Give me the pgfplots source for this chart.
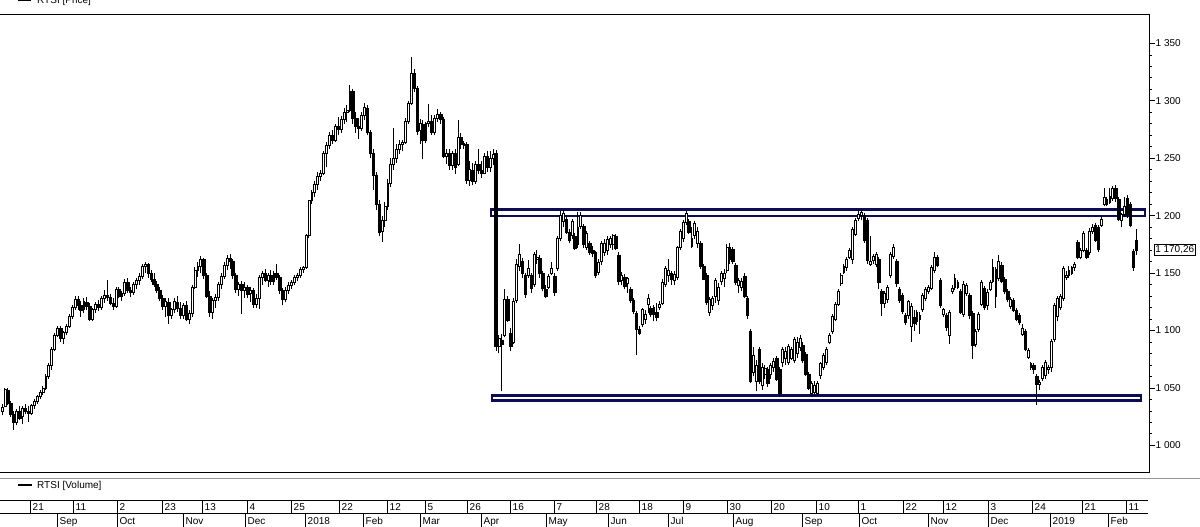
\documentclass[border=0pt]{standalone}
\usepackage{pgfplots}
\pgfplotsset{compat=1.18}
\usepackage{fontspec}
\setmainfont{Liberation Sans}
\definecolor{boxnavy}{RGB}{12,12,84}
\definecolor{sepgray}{RGB}{150,150,150}
\newcommand\yu{1.14833}% pt per index point on the price axis
\newcommand\lbl{\fontsize{10}{12}\selectfont}

\begin{document}
\begin{tikzpicture}[x=1pt,y=1pt,font=\lbl]

% price panel (the anchor sits about 8.7pt below the frame, hence 47.3)
\begin{axis}[
  at={(0,47.3)}, anchor=south west,
  scale only axis, width=1149pt, height=458.3pt,
  xmin=-0.684, xmax=392.4, ymin=976.2, ymax=1375.3,
  separate axis lines,
  axis x line*=box, axis y line*=right,
  axis line style={black, line width=0.9pt},
  xtick=\empty,
  ytick={1000,1050,...,1350},
  minor y tick num=4,
  tick align=outside,
  major tick length=6pt, minor tick length=3pt,
  tick style={black, line width=0.8pt},
  yticklabel pos=right,
  yticklabel style={anchor=west, inner sep=0.5pt, font=\lbl},
  /pgf/number format/assume math mode=true,
  /pgf/number format/1000 sep={\ },
  clip=false,
]
\addplot[
  scatter, only marks, mark=*, mark size=0pt,
  mark options={draw=none, fill=none},
  visualization depends on={value \thisrow{o} \as \vo},
  visualization depends on={value \thisrow{h} \as \vh},
  visualization depends on={value \thisrow{l} \as \vl},
  visualization depends on={value \thisrow{c} \as \vc},
  scatter/@pre marker code/.code={%
    \pgfmathsetmacro\dO{(\vo-\vc)*\yu}%
    \pgfmathsetmacro\dH{(\vh-\vc)*\yu}%
    \pgfmathsetmacro\dL{(\vl-\vc)*\yu}%
    \draw[black, line width=0.9pt] (0pt,\dL pt) -- (0pt,\dH pt);
    \ifdim\vo pt>\vc pt
      \fill[black] (-1.3pt,0pt) rectangle (1.3pt,\dO pt);
    \else
      \draw[black, fill=white, line width=0.7pt] (-0.95pt,0pt) rectangle (0.95pt,\dO pt);
    \fi
  },
  scatter/@post marker code/.code={},
] table[x=i, y=c] {
i o h l c
0 1030 1036 1026 1033
1 1034 1050 1033 1049
2 1048 1050 1035 1037
3 1037 1039 1025 1027
4 1027 1030 1013 1020
5 1020 1032 1018 1030
6 1030 1034 1022 1024
7 1025 1034 1019 1032
8 1032 1036 1027 1030
9 1030 1034 1020 1028
10 1028 1036 1026 1035
11 1035 1040 1032 1038
12 1038 1044 1036 1043
13 1043 1048 1040 1046
14 1046 1052 1044 1050
15 1050 1062 1048 1060
16 1060 1072 1058 1070
17 1070 1086 1066 1084
18 1084 1098 1082 1096
19 1096 1104 1094 1102
20 1102 1104 1090 1093
21 1093 1100 1088 1098
22 1098 1106 1096 1104
23 1104 1114 1102 1112
24 1112 1122 1110 1120
25 1120 1130 1118 1127
26 1127 1130 1118 1122
27 1122 1126 1112 1118
28 1118 1128 1115 1125
29 1125 1129 1118 1121
30 1121 1124 1108 1110
31 1110 1120 1108 1118
32 1118 1125 1115 1123
33 1123 1127 1117 1120
34 1120 1130 1118 1128
35 1128 1135 1124 1131
36 1131 1144 1126 1129
37 1129 1132 1122 1124
38 1124 1128 1118 1121
39 1121 1138 1120 1136
40 1136 1138 1128 1130
41 1130 1134 1126 1132
42 1132 1145 1130 1142
43 1142 1146 1133 1135
44 1135 1138 1129 1133
45 1133 1142 1131 1140
46 1140 1146 1136 1144
47 1144 1150 1140 1147
48 1147 1158 1145 1156
49 1156 1160 1150 1158
50 1158 1159 1146 1150
51 1150 1153 1142 1145
52 1145 1150 1138 1140
53 1140 1143 1133 1135
54 1135 1138 1126 1128
55 1128 1131 1118 1121
56 1121 1128 1112 1125
57 1125 1128 1106 1113
58 1113 1120 1110 1118
59 1118 1128 1115 1125
60 1125 1130 1116 1119
61 1119 1125 1110 1113
62 1113 1124 1110 1122
63 1122 1126 1108 1110
64 1110 1118 1106 1115
65 1115 1140 1112 1138
66 1138 1155 1136 1152
67 1152 1160 1147 1156
68 1156 1165 1150 1162
69 1162 1163 1145 1148
70 1148 1150 1128 1130
71 1130 1134 1112 1116
72 1116 1128 1110 1126
73 1126 1132 1120 1129
74 1129 1142 1126 1140
75 1140 1150 1136 1147
76 1147 1160 1145 1157
77 1157 1166 1153 1163
78 1163 1167 1154 1160
79 1160 1162 1145 1148
80 1148 1150 1133 1136
81 1136 1142 1130 1140
82 1140 1143 1114 1135
83 1135 1142 1128 1138
84 1138 1140 1128 1132
85 1132 1138 1125 1135
86 1135 1137 1120 1123
87 1123 1132 1120 1128
88 1128 1148 1119 1146
89 1146 1152 1140 1150
90 1150 1154 1142 1144
91 1144 1150 1138 1148
92 1148 1153 1140 1143
93 1143 1152 1140 1150
94 1150 1158 1144 1146
95 1146 1148 1132 1135
96 1135 1137 1122 1127
97 1127 1138 1125 1135
98 1135 1142 1132 1139
99 1139 1144 1136 1142
100 1142 1148 1140 1146
101 1146 1150 1143 1148
102 1148 1155 1146 1153
103 1153 1156 1150 1155
104 1155 1184 1154 1183
105 1183 1214 1181 1213
106 1213 1222 1210 1220
107 1220 1230 1216 1227
108 1227 1238 1222 1234
109 1234 1240 1230 1237
110 1237 1256 1235 1254
111 1254 1264 1242 1261
112 1261 1273 1258 1270
113 1270 1275 1262 1266
114 1266 1280 1264 1278
115 1278 1286 1270 1275
116 1275 1287 1272 1284
117 1284 1294 1280 1290
118 1290 1296 1282 1292
119 1292 1314 1290 1308
120 1308 1310 1280 1285
121 1285 1290 1272 1278
122 1278 1285 1267 1276
123 1276 1290 1274 1287
124 1287 1298 1283 1294
125 1294 1296 1270 1273
126 1273 1275 1250 1254
127 1254 1258 1222 1235
128 1235 1238 1205 1210
129 1210 1214 1182 1186
130 1186 1200 1177 1196
131 1196 1212 1190 1208
132 1208 1232 1205 1228
133 1228 1250 1225 1245
134 1245 1276 1240 1250
135 1250 1262 1246 1258
136 1258 1266 1254 1262
137 1262 1266 1256 1264
138 1264 1285 1262 1282
139 1282 1300 1280 1298
140 1298 1338 1296 1324
141 1324 1328 1308 1311
142 1311 1313 1270 1274
143 1274 1284 1262 1280
144 1280 1283 1249 1266
145 1266 1282 1263 1280
146 1280 1297 1277 1282
147 1282 1288 1270 1273
148 1273 1288 1270 1285
149 1285 1293 1282 1288
150 1288 1290 1280 1284
151 1284 1286 1250 1252
152 1252 1258 1245 1254
153 1254 1258 1240 1244
154 1244 1256 1240 1254
155 1254 1258 1236 1242
156 1245 1283 1243 1268
157 1268 1272 1258 1262
158 1261 1265 1258 1263
159 1262 1264 1228 1231
160 1231 1248 1226 1240
161 1240 1246 1227 1230
162 1230 1248 1228 1245
163 1245 1258 1236 1240
164 1240 1248 1233 1237
165 1237 1255 1236 1252
166 1252 1256 1238 1242
167 1242 1256 1238 1250
168 1250 1258 1244 1253
169 1254 1257 1082 1086
170 1086 1096 1080 1093
171 1092 1097 1047 1088
172 1096 1136 1094 1127
173 1127 1130 1107 1109
174 1098 1102 1082 1086
175 1090 1128 1088 1125
176 1126 1162 1124 1158
177 1156 1175 1152 1166
178 1160 1163 1146 1150
179 1148 1150 1128 1132
180 1148 1161 1146 1154
181 1148 1150 1133 1137
182 1140 1168 1138 1166
183 1162 1170 1158 1164
184 1163 1166 1146 1150
185 1150 1152 1134 1137
186 1136 1140 1128 1130
187 1138 1149 1136 1147
188 1150 1160 1148 1154
189 1147 1150 1130 1133
190 1154 1182 1152 1180
191 1180 1204 1178 1200
192 1195 1205 1190 1202
193 1197 1199 1184 1186
194 1186 1188 1176 1179
195 1183 1197 1180 1195
196 1182 1185 1170 1172
197 1175 1203 1172 1190
198 1191 1203 1188 1200
199 1191 1193 1172 1175
200 1172 1187 1170 1185
201 1176 1178 1166 1168
202 1170 1174 1164 1167
203 1168 1169 1146 1148
204 1151 1162 1148 1159
205 1160 1178 1157 1176
206 1168 1180 1165 1176
207 1170 1182 1166 1179
208 1175 1182 1172 1180
209 1175 1184 1170 1183
210 1182 1184 1170 1172
211 1166 1168 1140 1143
212 1144 1151 1140 1148
213 1146 1149 1136 1139
214 1141 1147 1133 1145
215 1136 1138 1124 1126
216 1126 1128 1114 1117
217 1115 1117 1079 1101
218 1101 1104 1096 1098
219 1105 1120 1103 1118
220 1110 1118 1106 1114
221 1123 1132 1115 1128
222 1119 1121 1112 1114
223 1114 1122 1108 1120
224 1116 1124 1108 1112
225 1120 1126 1118 1123
226 1124 1145 1122 1142
227 1140 1156 1138 1154
228 1148 1162 1142 1152
229 1150 1152 1140 1145
230 1144 1152 1140 1149
231 1146 1174 1144 1172
232 1172 1188 1170 1186
233 1180 1196 1177 1194
234 1194 1204 1192 1202
235 1195 1197 1184 1186
236 1173 1190 1172 1180
237 1183 1195 1180 1193
238 1176 1190 1172 1186
239 1176 1178 1154 1156
240 1156 1158 1144 1145
241 1148 1150 1122 1125
242 1116 1129 1113 1127
243 1122 1130 1118 1128
244 1130 1146 1124 1144
245 1126 1141 1122 1138
246 1143 1152 1140 1150
247 1145 1154 1138 1150
248 1152 1175 1150 1172
249 1162 1176 1158 1172
250 1171 1173 1158 1160
251 1157 1159 1140 1142
252 1139 1146 1133 1144
253 1138 1146 1134 1143
254 1147 1150 1128 1130
255 1128 1130 1110 1113
256 1099 1101 1054 1056
257 1064 1086 1060 1078
258 1056 1074 1047 1070
259 1084 1086 1053 1056
260 1052 1072 1048 1068
261 1062 1070 1058 1067
262 1066 1068 1051 1054
263 1062 1072 1058 1070
264 1068 1076 1064 1073
265 1076 1078 1056 1058
266 1066 1068 1042 1045
267 1072 1086 1068 1084
268 1076 1086 1070 1082
269 1072 1088 1070 1086
270 1076 1086 1074 1084
271 1074 1094 1072 1092
272 1080 1094 1076 1090
273 1085 1096 1082 1093
274 1087 1090 1072 1074
275 1079 1081 1060 1062
276 1062 1064 1048 1050
277 1045 1056 1042 1054
278 1046 1056 1043 1052
279 1045 1056 1043 1054
280 1061 1073 1058 1071
281 1068 1080 1066 1078
282 1072 1086 1070 1084
283 1090 1098 1088 1096
284 1099 1114 1097 1112
285 1110 1125 1108 1123
286 1123 1136 1121 1134
287 1141 1150 1139 1148
288 1151 1158 1149 1156
289 1155 1164 1152 1162
290 1164 1172 1162 1170
291 1162 1190 1158 1188
292 1184 1198 1182 1196
293 1198 1204 1195 1201
294 1200 1205 1196 1203
295 1200 1202 1176 1179
296 1196 1198 1158 1161
297 1158 1182 1156 1160
298 1161 1167 1158 1165
299 1158 1168 1155 1166
300 1162 1164 1136 1142
301 1134 1136 1113 1124
302 1124 1134 1120 1132
303 1127 1140 1124 1138
304 1148 1168 1146 1166
305 1165 1175 1162 1172
306 1160 1162 1138 1141
307 1136 1138 1124 1126
308 1131 1133 1114 1117
309 1113 1115 1105 1107
310 1113 1127 1110 1125
311 1104 1124 1090 1121
312 1112 1118 1100 1106
313 1108 1118 1105 1116
314 1110 1116 1097 1113
315 1118 1133 1116 1131
316 1128 1138 1126 1136
317 1134 1140 1132 1138
318 1137 1157 1135 1155
319 1152 1168 1150 1164
320 1164 1166 1155 1157
321 1144 1146 1120 1122
322 1114 1120 1112 1118
323 1113 1115 1100 1103
324 1096 1118 1088 1116
325 1134 1140 1132 1137
326 1138 1149 1135 1145
327 1138 1144 1136 1142
328 1134 1136 1114 1116
329 1114 1143 1112 1140
330 1132 1141 1130 1139
331 1131 1133 1110 1113
332 1115 1117 1075 1087
333 1088 1101 1086 1099
334 1101 1116 1099 1114
335 1123 1144 1121 1142
336 1137 1139 1118 1120
337 1122 1136 1118 1133
338 1136 1144 1134 1142
339 1143 1162 1141 1155
340 1130 1155 1120 1153
341 1145 1166 1143 1160
342 1157 1160 1141 1143
343 1145 1147 1132 1134
344 1134 1136 1125 1127
345 1121 1129 1119 1127
346 1126 1128 1116 1118
347 1118 1120 1108 1110
348 1113 1115 1105 1107
349 1097 1106 1095 1102
350 1099 1101 1082 1084
351 1077 1085 1075 1083
352 1068 1073 1066 1071
353 1070 1072 1062 1066
354 1060 1062 1035 1053
355 1053 1057 1048 1055
356 1058 1070 1056 1068
357 1061 1074 1058 1072
358 1066 1070 1062 1068
359 1068 1093 1064 1091
360 1092 1124 1090 1122
361 1112 1130 1108 1128
362 1120 1132 1118 1130
363 1128 1156 1126 1154
364 1146 1152 1144 1148
365 1148 1156 1146 1152
366 1150 1156 1148 1155
367 1155 1160 1152 1158
368 1177 1179 1162 1164
369 1164 1172 1162 1170
370 1170 1187 1168 1185
371 1170 1172 1162 1164
372 1168 1189 1166 1186
373 1186 1193 1184 1190
374 1192 1194 1177 1179
375 1190 1192 1168 1171
376 1192 1199 1190 1197
377 1210 1224 1208 1216
378 1210 1216 1208 1214
379 1212 1224 1210 1217
380 1215 1226 1213 1224
381 1224 1227 1212 1215
382 1214 1216 1195 1197
383 1196 1202 1190 1201
384 1201 1216 1199 1208
385 1215 1218 1198 1201
386 1210 1212 1190 1192
387 1169 1171 1152 1155
388 1179 1188 1166 1170.26
};
% channel boxes
\addplot[boxnavy, line width=2.6pt, line join=miter, forget plot] coordinates {(167.3,1199.6) (391.0,1199.6) (391.0,1205.3) (167.3,1205.3) (167.3,1199.6) (391.0,1199.6)};
\addplot[boxnavy, line width=2.6pt, line join=miter, forget plot] coordinates {(167.7,1038.9) (389.6,1038.9) (389.6,1043.3) (167.7,1043.3) (167.7,1038.9) (389.6,1038.9)};
\node[draw=black, line width=0.6pt, fill=white, inner xsep=1pt, inner ysep=1.5pt,
  text height=7.2pt, text depth=1.5pt, anchor=west, font=\lbl]
  at (axis cs:392.4,1170.26) [xshift=5pt] {1 170,26};
\end{axis}

% panel legends and separator
\draw[black, line width=1.5pt] (18,526.5) -- (31,526.5);
\node[anchor=base west, inner sep=0pt] at (37,523) {RTSI [Price]};
\draw[sepgray, line width=1pt] (0,48) -- (1200,48);
\draw[black, line width=1.5pt] (18,42) -- (32,42);
\node[anchor=base west, inner sep=0pt] at (37,38) {RTSI [Volume]};

% date strip: trading-day row
\draw[black, line width=0.9pt] (0,26.3) -- (1148,26.3);
\draw[black, line width=0.9pt] (0,14) -- (1148,14);
\foreach \p/\t in {30/21,73/11,117/2,162/23,202/13,247/4,291/25,339/22,387/12,
  425/5,467/26,510/16,554/7,596/28,639/18,683/9,727/30,771/20,816/10,858/1,
  903/22,943/12,988/3,1032/24,1082/21,1126/11}{
  \draw[black, line width=0.9pt] (\p,14) -- (\p,26.3);
  \node[anchor=base west, inner sep=0pt] at (\p+2.5,16.4) {\t};
}
% date strip: month row
\foreach \p/\t in {57/Sep,117/Oct,183/Nov,245/Dec,305/2018,363/Feb,420/Mar,
  481/Apr,546/May,608/Jun,668/Jul,733/Aug,802/Sep,859/Oct,928/Nov,988/Dec,
  1050/2019,1108/Feb}{
  \draw[black, line width=0.9pt] (\p,0) -- (\p,14);
  \node[anchor=base west, inner sep=0pt] at (\p+2.5,2.3) {\t};
}

\pgfresetboundingbox
\useasboundingbox (0,0) rectangle (1200,527);
\end{tikzpicture}
\end{document}
